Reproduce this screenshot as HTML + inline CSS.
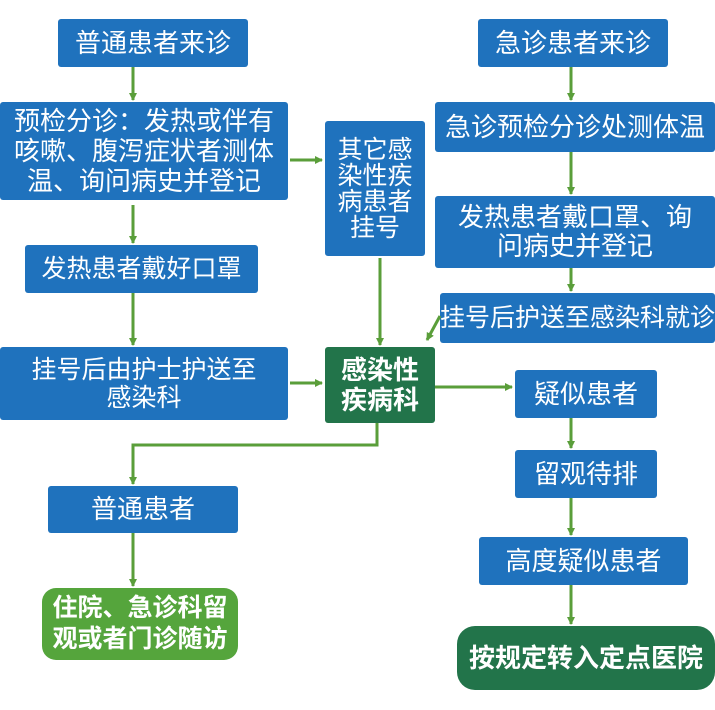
<!DOCTYPE html>
<html><head><meta charset="utf-8"><style>
body{margin:0;width:715px;height:710px;background:#fff;position:relative;overflow:hidden;font-family:"Liberation Sans","Noto Sans CJK SC",sans-serif;}
.b{position:absolute;background:#1f72bd;color:#fff;display:flex;align-items:center;justify-content:center;text-align:center;border-radius:3px;font-size:25px;line-height:29px;}
.g{background:#22744a;font-weight:bold;}
.lg{background:#55a53c;font-weight:bold;}
svg{position:absolute;left:0;top:0;}
</style></head><body>
<div class="b" style="left:58px;top:19px;width:190px;height:48px;font-size:26px">普通患者来诊</div>
<div class="b" style="left:0;top:102px;width:288px;height:98px;font-size:26px;line-height:30px">预检分诊：发热或伴有<br>咳嗽、腹泻症状者测体<br>温、询问病史并登记</div>
<div class="b" style="left:25px;top:245px;width:233px;height:48px">发热患者戴好口罩</div>
<div class="b" style="left:0;top:347px;width:288px;height:73px;line-height:28px">挂号后由护士护送至<br>感染科</div>
<div class="b" style="left:325px;top:121px;width:100px;height:135px;line-height:26px">其它感<br>染性疾<br>病患者<br>挂号</div>
<div class="b g" style="left:325px;top:347px;width:110px;height:76px;line-height:30px;font-size:26px">感染性<br>疾病科</div>
<div class="b" style="left:478px;top:19px;width:190px;height:48px;font-size:26px">急诊患者来诊</div>
<div class="b" style="left:435px;top:102px;width:280px;height:50px;font-size:26px">急诊预检分诊处测体温</div>
<div class="b" style="left:435px;top:196px;width:280px;height:72px;font-size:26px">发热患者戴口罩、询<br>问病史并登记</div>
<div class="b" style="left:440px;top:293px;width:275px;height:50px">挂号后护送至感染科就诊</div>
<div class="b" style="left:515px;top:370px;width:142px;height:48px;font-size:26px">疑似患者</div>
<div class="b" style="left:515px;top:450px;width:142px;height:48px;font-size:26px">留观待排</div>
<div class="b" style="left:479px;top:537px;width:209px;height:48px;font-size:26px">高度疑似患者</div>
<div class="b g" style="left:457px;top:626px;width:258px;height:64px;border-radius:18px;font-size:26px">按规定转入定点医院</div>
<div class="b" style="left:48px;top:486px;width:190px;height:47px;font-size:26px">普通患者</div>
<div class="b lg" style="left:42px;top:588px;width:196px;height:72px;border-radius:14px;line-height:31px">住院、急诊科留<br>观或者门诊随访</div>
<svg width="715" height="710">
<defs><marker id="a" markerWidth="8" markerHeight="8" refX="7" refY="4" orient="auto" markerUnits="userSpaceOnUse"><path d="M0,0 L8,4 L0,8 z" fill="#5a9e3a"/></marker></defs>
<g stroke="#5a9e3a" stroke-width="3" fill="none" marker-end="url(#a)">
<path d="M133,67 V100"/><path d="M133,205 V243"/><path d="M133,293 V345"/>
<path d="M290,160 H322"/><path d="M380,258 V345"/><path d="M290,383 H322"/>
<path d="M435,387 H512"/><path d="M377,423 V445 H133 V484"/><path d="M133,533 V586"/>
<path d="M571,67 V100"/><path d="M571,152 V194"/><path d="M571,268 V291"/>
<path d="M440,316 L427,340"/><path d="M571,418 V448"/><path d="M571,498 V535"/><path d="M571,585 V624"/>
</g></svg>
</body></html>
